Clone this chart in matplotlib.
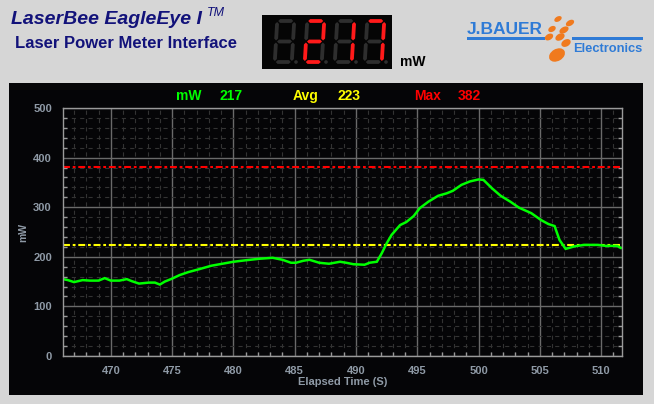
import matplotlib
matplotlib.use("Agg")
import matplotlib.pyplot as plt
from matplotlib.patches import Rectangle, Polygon, Ellipse, Circle

plt.rcParams['font.family'] = ['Liberation Sans', 'DejaVu Sans']
plt.rcParams['lines.scale_dashes'] = False

# ---- data ----
time_s = [466.1, 466.5, 467.0, 467.7, 468.3, 469.0, 469.5, 470.0, 470.7, 471.3,
          471.7, 472.3, 473.1, 473.6, 474.0, 474.4, 475.0, 475.6, 476.3, 477.2,
          478.2, 479.1, 480.0, 481.0, 482.1, 483.2, 484.0, 484.7, 485.1, 485.7,
          486.2, 487.0, 487.8, 488.7, 489.2, 489.8, 490.7, 491.1, 491.7, 492.1,
          492.5, 492.9, 493.6, 494.1, 494.7, 495.2, 495.9, 496.7, 497.4, 497.9,
          498.6, 499.3, 500.0, 500.4, 501.1, 501.8, 502.6, 503.3, 504.3, 505.1,
          505.7, 506.2, 506.6, 507.1, 507.4, 507.8, 508.6, 509.7, 510.4, 511.3,
          511.6]
power_mw = [155, 153, 149, 153, 152, 152, 157, 152, 152, 155,
            151, 146, 148, 148, 144, 150, 156, 163, 169, 175,
            182, 186, 190, 193, 196, 198, 194, 188, 188, 192,
            194, 188, 186, 190, 188, 185, 184, 188, 190, 207,
            227, 244, 264, 270, 282, 298, 311, 323, 328, 333,
            345, 352, 356, 355, 338, 323, 311, 299, 288, 274,
            266, 262, 234, 216, 218, 221, 224, 224, 222, 222,
            218]
current_mw = 217
avg_mw = 223
max_mw = 382
x_ticks = [470, 475, 480, 485, 490, 495, 500, 505, 510]
y_ticks = [0, 100, 200, 300, 400, 500]
display_text = "217"

W, H = 654, 404
fig = plt.figure(figsize=(W / 100, H / 100), dpi=100)
fig.patch.set_facecolor('#d6d6d6')

# background/decoration axes in pixel coordinates
bg = fig.add_axes([0, 0, 1, 1], zorder=0)
bg.set_xlim(0, W)
bg.set_ylim(H, 0)
bg.axis('off')

# black chart panel
bg.add_patch(Rectangle((9, 83), 634, 312, facecolor='#050507', edgecolor='none'))

# titles
navy = '#12127a'
bg.text(11, 19, "LaserBee EagleEye I", fontsize=14, fontweight='bold', fontstyle='italic',
        color=navy, ha='left', va='center')
bg.text(207, 13, "TM", fontsize=9, fontstyle='italic', color=navy, ha='left', va='center')
bg.text(15, 43, "Laser Power Meter Interface", fontsize=12, fontweight='bold',
        color=navy, ha='left', va='center')

# seven-segment display
bg.add_patch(Rectangle((262, 15), 130, 54, facecolor='#050505', edgecolor='none'))
SEGS = {'0': 'abcdef', '1': 'bc', '2': 'abged', '3': 'abgcd', '4': 'fgbc',
        '5': 'afgcd', '6': 'afgedc', '7': 'abc', '8': 'abcdefg', '9': 'abcdfg', ' ': ''}


def seg_poly(x0, y0, w, h, t, name, shear=0.06):
    g = 1.0
    hh = h / 2.0
    if name in 'agd':
        y = {'a': y0, 'g': y0 + hh, 'd': y0 + h}[name]
        xa, xb = x0, x0 + w
        pts = [(xa + g, y), (xa + g + t / 2, y - t / 2), (xb - g - t / 2, y - t / 2),
               (xb - g, y), (xb - g - t / 2, y + t / 2), (xa + g + t / 2, y + t / 2)]
    else:
        x = x0 if name in 'fe' else x0 + w
        ya, yb = (y0, y0 + hh) if name in 'fb' else (y0 + hh, y0 + h)
        pts = [(x, ya + g), (x + t / 2, ya + g + t / 2), (x + t / 2, yb - g - t / 2),
               (x, yb - g), (x - t / 2, yb - g - t / 2), (x - t / 2, ya + g + t / 2)]
    yc = y0 + hh
    return [(px + shear * (yc - py), py) for px, py in pts]


digits = display_text.rjust(4)
dim = '#2e2e2e'
lit = '#ff1a1a'
for i, ch in enumerate(digits):
    x0 = 276 + i * 30
    y0 = 21
    on = SEGS[ch]
    for s in 'abcdefg':
        bg.add_patch(Polygon(seg_poly(x0, y0, 17, 41, 3.8, s), closed=True,
                             facecolor=lit if s in on else dim, edgecolor='none'))
    bg.add_patch(Circle((x0 + 20, y0 + 41), 1.8, facecolor=dim, edgecolor='none'))

bg.text(400, 62, "mW", fontsize=10, fontweight='bold', color='black', ha='left', va='center')

# logo
blue = '#2f7bd6'
bg.text(467, 29, "J.BAUER", fontsize=12.5, fontweight='bold', color=blue, ha='left',
        va='center', fontstretch='condensed')
bg.add_patch(Rectangle((467, 37), 78, 2.5, facecolor=blue, edgecolor='none'))
bg.add_patch(Rectangle((572, 37), 71, 2.5, facecolor=blue, edgecolor='none'))
bg.text(573, 49, "Electronics", fontsize=9.3, fontweight='bold', color=blue, ha='left',
        va='center')
orange = '#f07a1e'
for (ex, ey, ew, eh) in [(558, 19, 8, 5), (570, 23, 9, 5.5), (552, 29, 8, 5.5),
                         (564, 30, 10, 6), (549, 37, 9, 6), (560, 37, 10, 6.5),
                         (566, 43, 10, 7), (557, 55, 17, 12)]:
    bg.add_patch(Ellipse((ex, ey), ew, eh, angle=-30, facecolor=orange, edgecolor='none'))

# legend-like readouts
green, yellow, red = '#00ff00', '#ffff00', '#ff0000'
for x, s, c in [(176, "mW", green), (220, str(current_mw), green),
                (293, "Avg", yellow), (337, str(avg_mw), yellow),
                (414, "Max", red), (458, str(max_mw), red)]:
    bg.text(x, 96, s, fontsize=10, fontweight='bold', color=c, ha='left', va='center')

# ---- main chart ----
ax = fig.add_axes([63 / W, 1 - 356 / H, (622 - 63) / W, (356 - 108) / H], zorder=1)
ax.set_facecolor('#050507')
ax.set_xlim(466.1, 511.7)
ax.set_ylim(0, 500)
ax.set_xticks(x_ticks)
ax.set_yticks(y_ticks)
ax.set_xticks([t for t in range(467, 512) if t % 5 != 0], minor=True)
ax.set_yticks([v for v in range(20, 500, 20) if v % 100 != 0], minor=True)

ax.grid(True, which='major', color='#6a6a6a', linewidth=1.0, linestyle='-')
ax.grid(True, which='minor', color='#333333', linewidth=0.8, dashes=(3, 3))
ax.set_axisbelow(True)

for sp in ax.spines.values():
    sp.set_color('#9a9a9a')
    sp.set_linewidth(1.0)

tick_col = '#8f9aa6'
ax.tick_params(which='both', direction='in', colors='#9a9a9a', labelcolor=tick_col,
               right=True, top=False, labelsize=8)
ax.tick_params(which='major', length=0)
ax.tick_params(axis='x', which='major', pad=7)
ax.tick_params(axis='y', which='major', pad=8)
ax.tick_params(which='minor', length=3, width=1)
for lab in ax.get_xticklabels() + ax.get_yticklabels():
    lab.set_fontweight('bold')

ax.axhline(max_mw, color=red, linewidth=1.5, dashes=(5, 2, 2, 2))
ax.axhline(avg_mw, color=yellow, linewidth=1.5, dashes=(5, 2, 2, 2))
ax.plot(time_s, power_mw, color=green, linewidth=1.8, solid_joinstyle='miter')

ax.set_xlabel("Elapsed Time (S)", fontsize=8, fontweight='bold', color=tick_col, labelpad=1)
bg.text(23, 233, "mW", fontsize=7.5, fontweight='bold', color=tick_col, rotation=90,
        ha='center', va='center')

fig.savefig("out.png", dpi=100, facecolor=fig.get_facecolor())
